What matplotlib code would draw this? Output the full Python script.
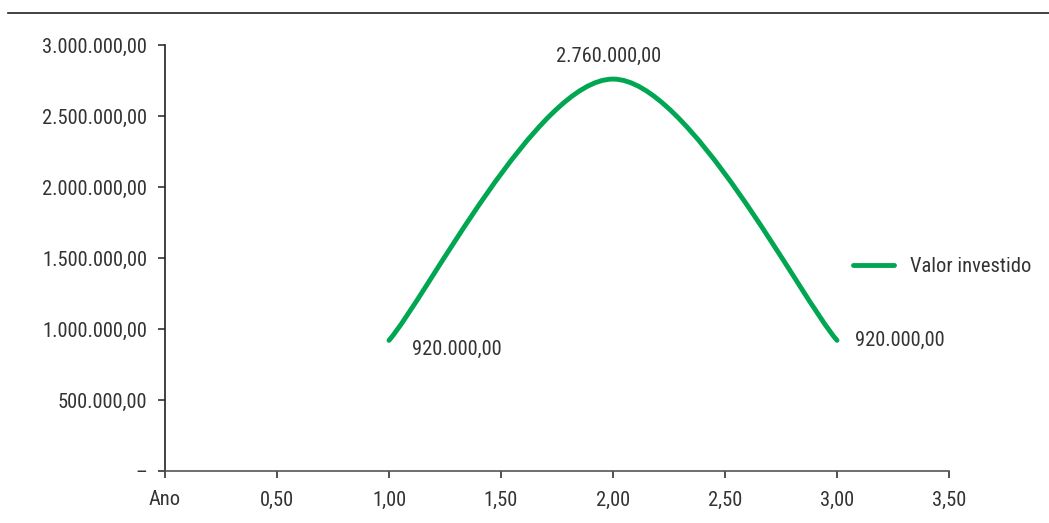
import matplotlib
matplotlib.use("Agg")
import matplotlib.pyplot as plt
from matplotlib.path import Path
from matplotlib.patches import PathPatch
from matplotlib.lines import Line2D
from matplotlib.ticker import FuncFormatter

plt.rcParams['font.family'] = ['Roboto Condensed', 'Liberation Sans', 'DejaVu Sans']

anos = [1.0, 2.0, 3.0]
valores = [920000, 2760000, 920000]
serie = "Valor investido"

x_ticks = [0, 0.5, 1.0, 1.5, 2.0, 2.5, 3.0, 3.5]
y_ticks = [0, 500000, 1000000, 1500000, 2000000, 2500000, 3000000]

verde = "#00a651"
texto = "#333333"
fs = 14.8


def br(v, dec=2):
    s = f"{v:,.{dec}f}"
    return s.replace(",", "X").replace(".", ",").replace("X", ".")


fig = plt.figure(figsize=(10.49, 5.23), dpi=100)
ax = fig.add_axes([165 / 1049, 1 - 471 / 523, (949 - 165) / 1049, (471 - 45) / 523])

# linha suavizada (bezier estilo excel)
pts = list(zip(anos, valores))
verts = [pts[0]]
codes = [Path.MOVETO]
for i in range(len(pts) - 1):
    p0 = pts[i - 1] if i > 0 else pts[i]
    p1 = pts[i]
    p2 = pts[i + 1]
    p3 = pts[i + 2] if i + 2 < len(pts) else pts[i + 1]
    c1 = (p1[0] + (p2[0] - p0[0]) / 6, p1[1] + (p2[1] - p0[1]) / 6)
    c2 = (p2[0] - (p3[0] - p1[0]) / 6, p2[1] - (p3[1] - p1[1]) / 6)
    verts += [c1, c2, p2]
    codes += [Path.CURVE4] * 3
ax.add_patch(PathPatch(Path(verts, codes), facecolor="none", edgecolor=verde,
                       lw=3.5, capstyle="round"))

# rótulos
ax.annotate(br(valores[0]), (anos[0], valores[0]), xytext=(16.5, -6.5),
            textcoords="offset points", fontsize=fs, color=texto, ha="left", va="center")
ax.annotate(br(valores[1]), (anos[1], valores[1]), xytext=(-3, 16),
            textcoords="offset points", fontsize=fs, color=texto, ha="center", va="center")
ax.annotate(br(valores[2]), (anos[2], valores[2]), xytext=(13, 0),
            textcoords="offset points", fontsize=fs, color=texto, ha="left", va="center")

ax.set_xlim(0, 3.5)
ax.set_ylim(0, 3000000)
ax.set_xticks(x_ticks)
ax.set_yticks(y_ticks)
ax.xaxis.set_major_formatter(FuncFormatter(lambda v, p: "Ano" if v == 0 else br(v)))
ax.yaxis.set_major_formatter(FuncFormatter(lambda v, p: "–" if v == 0 else br(v)))

for s in ["top", "right"]:
    ax.spines[s].set_visible(False)
ax.spines["left"].set_color("#222222")
ax.spines["bottom"].set_color("#555555")
ax.spines["left"].set_linewidth(1.2)
ax.spines["bottom"].set_linewidth(1.2)
ax.tick_params(axis="both", labelsize=fs, colors="#333333", labelcolor=texto)
ax.tick_params(axis="y", length=5, width=1.2, pad=8)
ax.tick_params(axis="x", length=5, width=1.2, pad=9)

handle = Line2D([], [], color=verde, lw=3.5, solid_capstyle="round")
fig.legend([handle], [serie], loc="center left", bbox_to_anchor=(834 / 1049, 1 - 267 / 523),
           frameon=False, fontsize=fs, labelcolor=texto, handlelength=2.0, handletextpad=0.8)

# linha no topo
fig.add_artist(Line2D([8 / 1049, 1.0], [1 - 13 / 523, 1 - 13 / 523], color="#222222", lw=1.2))

fig.savefig("out.png", dpi=100)
